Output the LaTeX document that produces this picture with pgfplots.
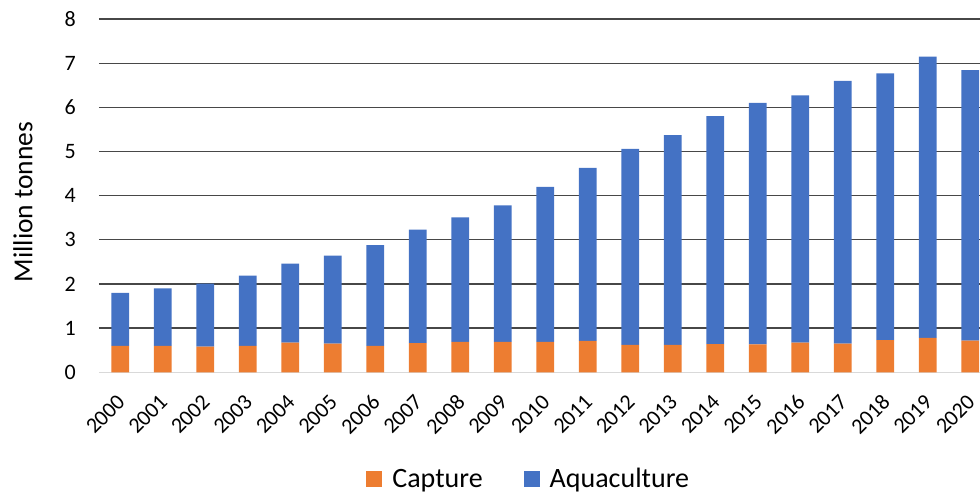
\documentclass[border=0pt]{standalone}
\usepackage{pgfplots}
\pgfplotsset{compat=1.18}
\usepackage{pgfplotstable}
\usepackage{fontspec}
\setmainfont{Carlito}

\definecolor{capturecol}{HTML}{ED7D31}
\definecolor{aquacol}{HTML}{4472C4}

% Production by source, million tonnes
\pgfplotstableread{
x year capture aquaculture
0  2000 0.60 1.20
1  2001 0.60 1.30
2  2002 0.58 1.43
3  2003 0.60 1.59
4  2004 0.67 1.79
5  2005 0.65 1.99
6  2006 0.60 2.28
7  2007 0.66 2.57
8  2008 0.69 2.82
9  2009 0.69 3.09
10 2010 0.69 3.51
11 2011 0.71 3.92
12 2012 0.62 4.44
13 2013 0.62 4.75
14 2014 0.64 5.16
15 2015 0.63 5.47
16 2016 0.67 5.60
17 2017 0.65 5.95
18 2018 0.73 6.04
19 2019 0.78 6.37
20 2020 0.72 6.12
}\datatable

% square swatch with a little space before the entry text
\pgfplotsset{
  squarelegend/.style={
    legend image code/.code={\fill[##1,draw=none] (0pt,-8pt) rectangle (16pt,8pt);
      \path (24pt,0pt);}
  }
}

\begin{document}
\begin{tikzpicture}
\begin{axis}[
  scale only axis,
  width=880.6pt, height=353.3pt,
  xmin=-0.5, xmax=20.22,
  ymin=0, ymax=8,
  ybar stacked,
  bar width=0.42,
  xtick={0,...,20},
  xticklabels from table={\datatable}{year},
  ytick={1,...,8},
  extra y ticks={0},
  extra y tick style={ymajorgrids=true, major grid style={draw=black!15, line width=1.6pt}},
  ymajorgrids,
  major grid style={draw=black!72, line width=1.3pt},
  axis line style={draw=none},
  tick style={draw=none},
  /pgf/number format/assume math mode=true,
  tick label style={font=\fontsize{22}{26}\selectfont},
  yticklabel style={inner sep=0pt, anchor=east, xshift=-23pt},
  xticklabel style={inner sep=0pt, xshift=1pt, yshift=-26pt, rotate=45, anchor=east},
  ylabel={Million tonnes},
  every axis y label/.style={at={(axis description cs:-0.0863,0.482)}, rotate=90, anchor=center,
    font=\fontsize{27.5}{32}\selectfont},
  legend columns=2,
  legend style={at={(axis description cs:0.488,-0.302)}, anchor=center, draw=none,
    font=\fontsize{28}{32}\selectfont,
    /tikz/every even column/.append style={column sep=39pt}},
]
\addplot[fill=capturecol, draw=none, squarelegend] table[x=x, y=capture] {\datatable};
\addlegendentry{Capture}
\addplot[fill=aquacol, draw=none, squarelegend] table[x=x, y=aquaculture] {\datatable};
\addlegendentry{Aquaculture}
\end{axis}
\pgfresetboundingbox
\path[use as bounding box] (-99pt,-120.7pt) rectangle (881pt,372.3pt);
\end{tikzpicture}
\end{document}
